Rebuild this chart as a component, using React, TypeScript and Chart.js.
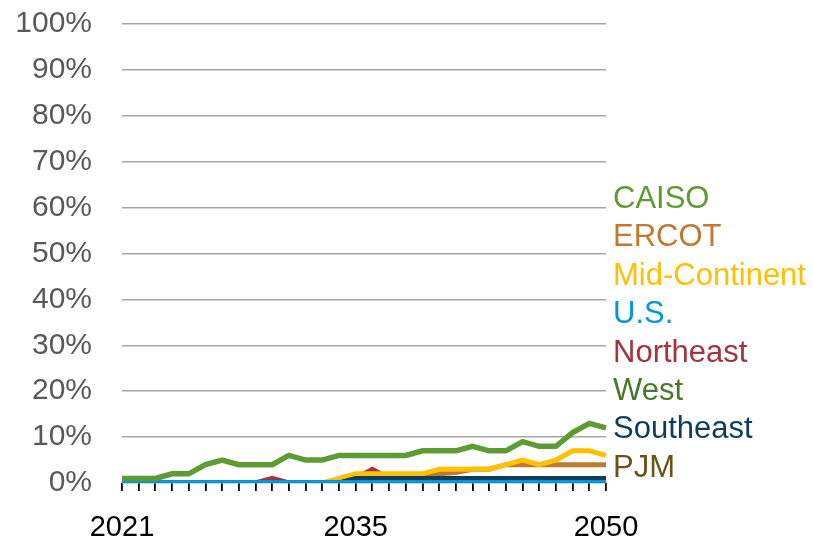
import React, { useEffect, useRef } from 'react';
import { Chart, registerables } from 'chart.js';

Chart.register(...registerables);

const years = [
  '2021', '2022', '2023', '2024', '2025', '2026', '2027', '2028', '2029', '2030',
  '2031', '2032', '2033', '2034', '2035', '2036', '2037', '2038', '2039', '2040',
  '2041', '2042', '2043', '2044', '2045', '2046', '2047', '2048', '2049', '2050',
];
const shownYears = ['2021', '2035', '2050'];

const caiso = [1, 1, 1, 2, 2, 4, 5, 4, 4, 4, 6, 5, 5, 6, 6, 6, 6, 6, 7, 7, 7, 8, 7, 7, 9, 8, 8, 11, 13, 12];
const ercot = [0, 0, 0, 0, 0, 0, 0, 0, 0, 0, 0, 0, 0, 0, 1, 1, 1, 1, 1, 2, 2.3, 3, 3, 4, 4, 4, 4, 4, 4, 4];
const midContinent = [0, 0, 0, 0, 0, 0, 0, 0, 0, 0, 0, 0, 0, 1, 2, 2, 2, 2, 2, 3, 3, 3, 3, 4, 5, 4, 5, 7, 7, 6];
const us = [0, 0, 0, 0, 0, 0, 0, 0, 0, 0, 0, 0, 0, 0, 0, 0, 0, 0, 0, 0, 0, 0, 0, 0, 0, 0, 0, 0, 0, 0];
const northeast = [0, 0, 0, 0, 0, 0, 0, 0, 0, 1, 0, 0, 0, 0, 1, 3, 1, 1, 1, 1, 1, 1, 1, 1, 1, 1, 1, 1, 1, 1];
const west = [0, 0, 0, 0, 0, 0, 0, 0, 0, 0, 0, 0, 0, 0, 0, 0, 0, 0, 0, 0, 0, 0, 0, 0, 0, 0, 0, 0, 0, 0];
const southeast = [0, 0, 0, 0, 0, 0, 0, 0, 0, 0, 0, 0, 0, 0, 1, 1, 1, 1, 1, 1, 1, 1, 1, 1, 1, 1, 1, 1, 1, 1];
const pjm = [0, 0, 0, 0, 0, 0, 0, 0, 0, 0, 0, 0, 0, 0, 0, 0, 0, 0, 0, 0, 0, 0, 0, 0, 0, 0, 0, 0, 0, 0];

const legendNames = ['CAISO', 'ERCOT', 'Mid-Continent', 'U.S.', 'Northeast', 'West', 'Southeast', 'PJM'];
const legendColors = ['#5f9b33', '#c07a30', '#ffc000', '#0098d8', '#a3333d', '#4a7729', '#0d3d5c', '#6b5318'];

const FONT = '"Liberation Sans", Arial, sans-serif';

export default function App() {
  const ref = useRef<HTMLCanvasElement | null>(null);

  useEffect(() => {
    const ctx = ref.current;
    if (!ctx) return;
    const seriesList = [caiso, ercot, midContinent, us, northeast, west, southeast, pjm];
    // drawing order (higher = drawn earlier / underneath)
    const orders = [0, 5, 4, 1, 6, 7, 3, 8];
    const widths = [5.5, 5, 5, 6, 5, 5, 5, 5];
    const datasets = legendNames.map((name, i) => ({
      label: name,
      data: seriesList[i],
      borderColor: legendColors[i],
      backgroundColor: legendColors[i],
      borderWidth: widths[i],
      pointRadius: 0,
      tension: 0,
      fill: false,
      order: orders[i],
      borderJoinStyle: 'miter' as const,
    }));
    const chart = new Chart(ctx, {
      type: 'line',
      data: { labels: years, datasets },
      options: {
        responsive: false,
        animation: false,
        layout: { padding: { left: 0, right: 207, top: 24, bottom: 0 } },
        plugins: { legend: { display: false }, tooltip: { enabled: false } },
        scales: {
          x: {
            grid: {
              display: true,
              drawOnChartArea: false,
              drawTicks: true,
              tickLength: 8,
              color: '#000000',
              lineWidth: 1.8,
            },
            border: { display: false },
            ticks: {
              autoSkip: false,
              maxRotation: 0,
              minRotation: 0,
              padding: 20,
              color: '#000000',
              font: { family: FONT, size: 29 },
              callback: (_v: any, idx: number) => (shownYears.includes(years[idx]) ? years[idx] : ''),
            },
            afterFit: (s: any) => { s.height = 57; },
          },
          y: {
            min: 0,
            max: 100,
            grid: { color: '#a6a6a6', lineWidth: 1.5, drawTicks: false },
            border: { display: false },
            ticks: {
              stepSize: 10,
              padding: 30,
              color: '#595959',
              font: { family: FONT, size: 30 },
              callback: (v: any) => v + '%',
            },
            afterFit: (s: any) => {
              s.width = 122;
              s.paddingTop = 0;
              s.paddingBottom = 0;
            },
          },
        },
      },
    });
    return () => chart.destroy();
  }, []);

  return (
    <div style={{ position: 'fixed', left: 0, top: 0, width: 813, height: 540, background: '#fff' }}>
      <canvas ref={ref} width={813} height={540} style={{ position: 'absolute', left: 0, top: 0 }} />
      {legendNames.map((name, i) => (
        <div
          key={name}
          style={{
            position: 'absolute',
            left: 613,
            top: 182 + i * 38.4,
            fontFamily: FONT,
            fontSize: 31,
            lineHeight: '31px',
            color: legendColors[i],
            whiteSpace: 'nowrap',
          }}
        >
          {name}
        </div>
      ))}
    </div>
  );
}
